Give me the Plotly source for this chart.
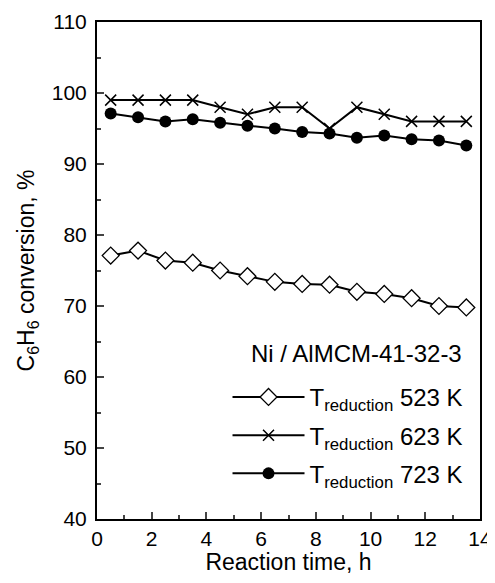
import plotly.graph_objects as go

time_h = [0.5, 1.5, 2.5, 3.5, 4.5, 5.5, 6.5, 7.5, 8.5, 9.5, 10.5, 11.5, 12.5, 13.5]
conv_523 = [77.1, 77.8, 76.4, 76.1, 75.0, 74.2, 73.4, 73.1, 73.0, 72.0, 71.7, 71.1, 70.0, 69.8]
conv_623 = [99.0, 99.0, 99.0, 99.0, 98.0, 97.0, 98.0, 98.0, 95.0, 98.0, 97.0, 96.0, 96.0, 96.0]
conv_723 = [97.1, 96.6, 96.0, 96.3, 95.8, 95.4, 95.0, 94.5, 94.3, 93.7, 94.0, 93.5, 93.3, 92.6]
labels = ["T<sub>reduction</sub> 523 K", "T<sub>reduction</sub> 623 K", "T<sub>reduction</sub> 723 K"]
catalyst = "Ni / AlMCM-41-32-3"

font = "Liberation Sans, Arial, sans-serif"

fig = go.Figure()
fig.add_trace(go.Scatter(x=time_h, y=conv_523, name=labels[0], legendgroup="a", mode="lines+markers",
                         line=dict(color="black", width=2),
                         marker=dict(symbol="diamond", size=13, color="white",
                                     line=dict(color="black", width=1.3))))
fig.add_trace(go.Scatter(x=time_h, y=conv_623, name=labels[1], legendgroup="b", mode="lines+markers",
                         line=dict(color="black", width=2),
                         marker=dict(symbol="x-thin", size=11, color="black",
                                     line=dict(color="black", width=1.5))))
fig.add_trace(go.Scatter(x=time_h, y=conv_723, name=labels[2], legendgroup="c", mode="lines+markers",
                         line=dict(color="black", width=2),
                         marker=dict(symbol="circle", size=12, color="black")))

fig.add_annotation(text=catalyst, x=0.958, y=0.334, xref="paper", yref="paper",
                   xanchor="right", yanchor="middle", showarrow=False,
                   font=dict(size=24))

# page body has an 8px margin, so keep the figure inside the window
fig.update_layout(
    width=487, height=567,
    margin=dict(l=89, r=15, t=14, b=56),
    plot_bgcolor="white", paper_bgcolor="white",
    font=dict(family=font, size=21, color="black"),
    showlegend=True,
    legend=dict(x=0.97, y=0.29, xanchor="right", yanchor="top",
                bgcolor="rgba(0,0,0,0)", itemwidth=72, tracegroupgap=4,
                font=dict(size=24)),
    xaxis=dict(range=[0, 14], dtick=2, ticks="inside", ticklen=7, tickwidth=1.5,
               showline=True, linecolor="black", linewidth=2, mirror=True,
               showgrid=False, zeroline=False, automargin=False, ticklabelstandoff=0,
               minor=dict(ticks="inside", ticklen=4, dtick=1, tickwidth=1.5),
               title=dict(text="Reaction time, h", font=dict(size=23), standoff=4)),
    yaxis=dict(range=[40, 110], dtick=10, ticks="inside", ticklen=7, tickwidth=1.5,
               showline=True, linecolor="black", linewidth=2, mirror=True,
               showgrid=False, zeroline=False, automargin=False, ticklabelstandoff=4,
               minor=dict(ticks="inside", ticklen=4, dtick=5, tickwidth=1.5),
               title=dict(text="C<sub>6</sub>H<sub>6</sub> conversion, %", font=dict(size=23), standoff=11)),
)

fig.write_html("out.html")
